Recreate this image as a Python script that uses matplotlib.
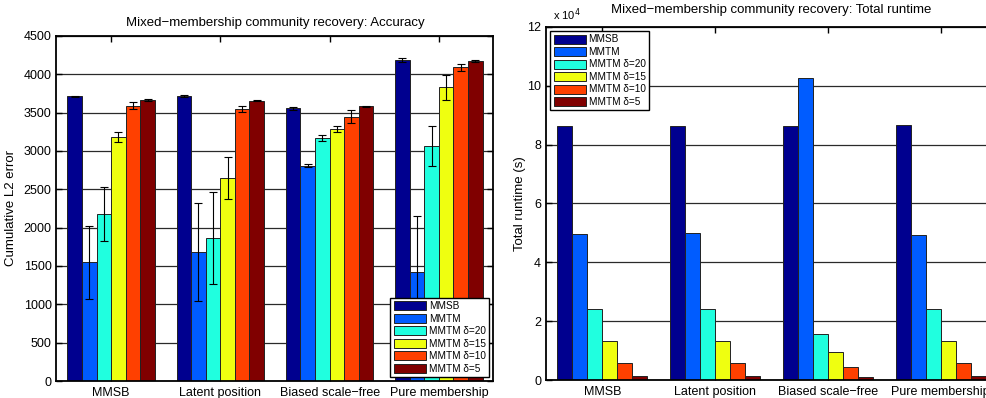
import numpy as np
import matplotlib.pyplot as plt
from matplotlib.ticker import MultipleLocator

plt.rcParams['font.family'] = ['Liberation Sans', 'DejaVu Sans']

groups = ['MMSB', 'Latent position', 'Biased scale\u2212free', 'Pure membership']
methods = ['MMSB', 'MMTM', 'MMTM \u03b4=20', 'MMTM \u03b4=15', 'MMTM \u03b4=10', 'MMTM \u03b4=5']
colors = ['#00008F', '#005CFF', '#20FFDF', '#EFFF10', '#FF4000', '#800000']

# accuracy (cumulative L2 error), one row per method, one column per group
acc_mmsb = [3715, 3712, 3555, 4190]
acc_mmtm = [1550, 1680, 2810, 1420]
acc_d20 = [2178, 1865, 3170, 3065]
acc_d15 = [3185, 2650, 3290, 3830]
acc_d10 = [3590, 3545, 3445, 4090]
acc_d5 = [3670, 3655, 3580, 4175]

err_mmsb = [8, 12, 15, 25]
err_mmtm = [475, 635, 25, 730]
err_d20 = [352, 595, 35, 255]
err_d15 = [65, 275, 40, 165]
err_d10 = [45, 40, 85, 45]
err_d5 = [12, 6, 10, 15]

# total runtime in units of 1e4 seconds
rt_mmsb = [8.62, 8.63, 8.65, 8.67]
rt_mmtm = [4.98, 5.00, 10.27, 4.94]
rt_d20 = [2.42, 2.42, 1.56, 2.43]
rt_d15 = [1.32, 1.31, 0.95, 1.33]
rt_d10 = [0.58, 0.58, 0.45, 0.58]
rt_d5 = [0.14, 0.14, 0.11, 0.15]

acc = [acc_mmsb, acc_mmtm, acc_d20, acc_d15, acc_d10, acc_d5]
err = [err_mmsb, err_mmtm, err_d20, err_d15, err_d10, err_d5]
rt = [rt_mmsb, rt_mmtm, rt_d20, rt_d15, rt_d10, rt_d5]

fig = plt.figure(figsize=(9.87, 3.98), dpi=100)
ax1 = fig.add_axes([0.0572, 0.0427, 0.4428, 0.867])
ax2 = fig.add_axes([0.5532, 0.0452, 0.457, 0.887])

x = np.arange(1, 5)
n = len(methods)
w = 0.8 / n


def style(ax):
    ax.set_axisbelow(True)
    ax.yaxis.grid(True, color='#2a2a2a', linewidth=0.9)
    ax.tick_params(direction='in', top=True, right=True, labelsize=9, length=4, width=1)
    ax.tick_params(axis='x', length=4, pad=4)
    for s in ax.spines.values():
        s.set_linewidth(1.3)
    ax.set_xlim(0.5, 4.5)
    ax.set_xticks(x)
    ax.set_xticklabels(groups)


for i in range(n):
    pos = x - 0.4 + w * (i + 0.5)
    ax1.bar(pos, acc[i], w, color=colors[i], edgecolor='#222222', linewidth=0.7,
            label=methods[i], zorder=2)
    ax1.errorbar(pos, acc[i], yerr=err[i], fmt='none', ecolor='black',
                 elinewidth=0.8, capsize=3, capthick=0.8, zorder=3)
    ax2.bar(pos, rt[i], w, color=colors[i], edgecolor='#222222', linewidth=0.7,
            label=methods[i], zorder=2)

style(ax1)
ax1.set_ylim(0, 4500)
ax1.yaxis.set_major_locator(MultipleLocator(500))
ax1.set_ylabel('Cumulative L2 error', fontsize=9.5, labelpad=5)
ax1.set_title('Mixed\u2212membership community recovery: Accuracy', fontsize=9.5, pad=7)

style(ax2)
ax2.set_ylim(0, 12)
ax2.yaxis.set_major_locator(MultipleLocator(2))
ax2.set_ylabel('Total runtime (s)', fontsize=9.5, labelpad=1)
ax2.set_title('Mixed\u2212membership community recovery: Total runtime', fontsize=9.5, pad=10)
ax2.text(0.015, 1.012, 'x 10$^4$', transform=ax2.transAxes, fontsize=8, ha='left', va='bottom')

leg_kw = dict(fontsize=7.2, fancybox=False, framealpha=1, edgecolor='black',
              handlelength=3.2, handleheight=1.0, handletextpad=0.3,
              labelspacing=0.25, borderpad=0.35, borderaxespad=0.4)
l1 = ax1.legend(loc='lower right', **leg_kw)
l1.get_frame().set_linewidth(1.0)
l2 = ax2.legend(loc='upper left', **leg_kw)
l2.get_frame().set_linewidth(1.0)

fig.savefig('out.png', dpi=100)
